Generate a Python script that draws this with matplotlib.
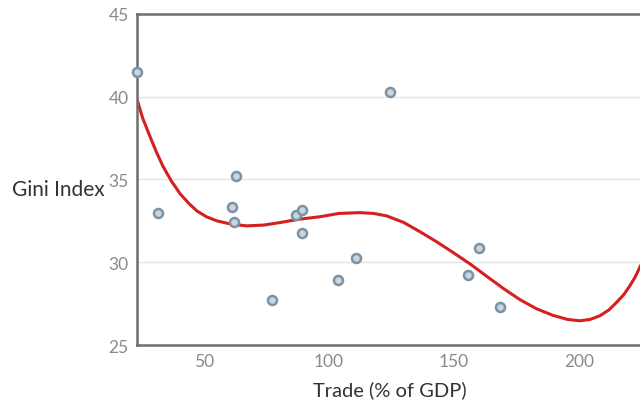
import matplotlib
matplotlib.use("Agg")
import matplotlib.pyplot as plt

# scatter data: Trade (% of GDP) vs Gini Index
trade = [23.2, 31.7, 61.1, 62.8, 62.0, 77.2, 86.7, 89.1, 89.1, 103.5, 110.7, 124.4, 155.5, 160.1, 168.5]
gini = [41.5, 32.95, 33.35, 35.2, 32.45, 27.75, 32.85, 33.15, 31.75, 28.95, 30.25, 40.3, 29.25, 30.85, 27.3]

# trendline
trend_x = [23.2, 25.5, 28.4, 31.0, 33.6, 37.0, 40.4, 44.0, 47.2, 51.0, 55.2, 61.0, 67.2, 74.0, 80.4,
           88.0, 96.4, 104.0, 112.4, 118.0, 123.2, 130.0, 136.4, 143.0, 149.6, 156.5, 163.2, 170.0,
           176.4, 183.0, 189.6, 195.5, 200.4, 204.5, 208.4, 212.0, 215.1, 218.0, 220.4, 222.5, 224.4, 226.0]
trend_y = [39.85, 38.7, 37.6, 36.65, 35.8, 34.9, 34.15, 33.55, 33.1, 32.75, 32.5, 32.3, 32.2, 32.25, 32.4,
           32.6, 32.75, 32.95, 33.0, 32.95, 32.8, 32.4, 31.85, 31.25, 30.6, 29.9, 29.15, 28.4,
           27.75, 27.2, 26.8, 26.55, 26.47, 26.55, 26.77, 27.12, 27.58, 28.05, 28.58, 29.1, 29.7, 30.2]

xticks = [50, 100, 150, 200]
yticks = [25, 30, 35, 40, 45]

plt.rcParams['font.family'] = ['Lato', 'DejaVu Sans']

fig = plt.figure(figsize=(6.4, 4.02), dpi=100)
ax = fig.add_axes([0.214, 0.139, 0.79, 0.824])

ax.set_xlim(23.2, 225.5)
ax.set_ylim(25, 45)
ax.set_xticks(xticks)
ax.set_yticks(yticks)
ax.tick_params(length=0, labelsize=12.5, colors='#8a8a8a', pad=6)

for y in [30, 35, 40]:
    ax.axhline(y, color='#e4e4e4', lw=1, zorder=0)

for side in ['left', 'bottom', 'top']:
    ax.spines[side].set_color('#6e6e6e')
    ax.spines[side].set_linewidth(1.8)
ax.spines['right'].set_visible(False)

ax.plot(trend_x, trend_y, color='#d42020', lw=2.2, zorder=2, solid_capstyle='round')
ax.plot(trade, gini, 'o', ms=6.5, mfc='#c9d5df', mec='#7c93a6', mew=1.8, zorder=3, clip_on=False)

ax.set_xlabel('Trade (% of GDP)', fontsize=14.5, color='#333333', labelpad=8)
fig.text(0.018, 0.527, 'Gini Index', fontsize=15, color='#333333', va='center', ha='left')

fig.savefig('out.png', dpi=100)
